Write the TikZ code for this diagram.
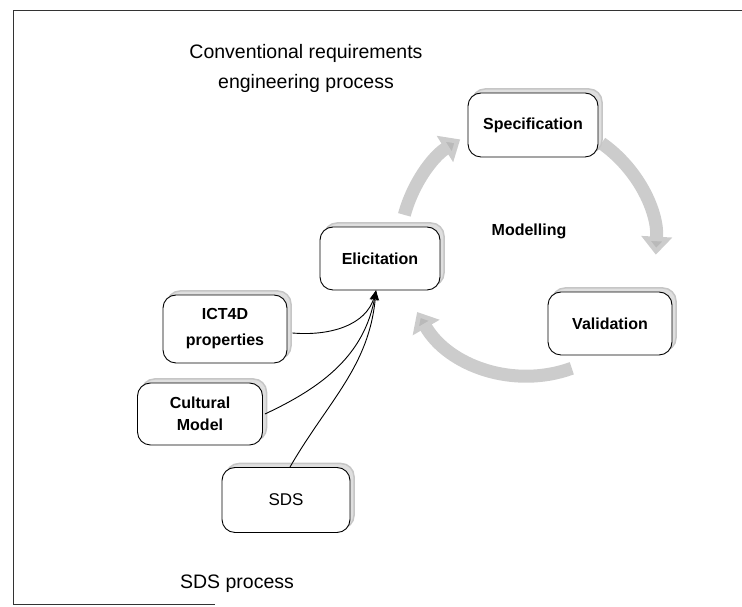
\documentclass[tikz,border=0pt]{standalone}
\usepackage{fontspec}
\setmainfont{Liberation Sans}
\usetikzlibrary{arrows.meta,shadows,calc}
\tikzset{
  box/.style={draw=black, line width=0.9pt, rounded corners=13pt, fill=white,
    minimum width=#1, minimum height=63pt, align=center, font=\fontsize{16}{22}\selectfont\bfseries,
    copy shadow={shadow xshift=4pt, shadow yshift=4pt, fill=gray!25, draw=gray!45, line width=1.5pt}},
  cyc/.style={line width=13pt, draw=gray!40, -{Triangle[width=30pt,length=18pt,fill=gray!55]}},
  feed/.style={line width=0.9pt, draw=black, -{Stealth[length=10pt,width=8pt]}},
  frame/.style={line width=0.9pt, draw=black!80},
  lbl/.style={font=\fontsize{19.5}{30}\selectfont, align=center}
}
\begin{document}
\begin{tikzpicture}[x=1pt,y=1pt]
\useasboundingbox (0,0) rectangle (742,607);
% frame
\coordinate (ftr) at (742,597);
\coordinate (ftl) at (13,597);
\coordinate (fbl) at (13,3);
\coordinate (fbr) at (215,3);
\draw[frame] (ftr) -- (ftl) -- (fbl) -- (fbr);
% cycle arrows
\coordinate (cc) at (528,359);
\draw[cyc] ($(cc)+(165:128)$) arc[start angle=165, end angle=122, radius=128];
\draw[cyc] ($(cc)+(55:128)$) arc[start angle=55, end angle=-3, radius=128];
\draw[cyc] ($(cc)+(-70:128)$) arc[start angle=-70, end angle=-150, radius=128];
% nodes
\node[box=130pt, minimum height=64pt] (spec) at (533,482) {Specification};
\node[box=120pt] (elic) at (380,348.5) {Elicitation};
\node[box=124pt] (valid) at (610,283.5) {Validation};
\node[box=124pt, minimum height=68pt, font=\fontsize{16}{26}\selectfont\bfseries] (ict) at (225,278) {ICT4D\\properties};
\node[box=125pt, minimum height=62pt] (cult) at (200,193) {Cultural\\Model};
\node[box=128pt, minimum height=65pt, font=\fontsize{17}{22}\selectfont] (sds) at (286,107) {SDS};
\node[lbl] (title) at (306,539) {Conventional requirements\\engineering process};
\node[font=\fontsize{16}{20}\selectfont\bfseries] (model) at (529,376) {Modelling};
\node[lbl] (sdsp) at (237,23) {SDS process};
% feeds
\coordinate (tgt) at ($(elic.south)+(-4,0)$);
\draw[feed] ($(ict.east)+(5,-4)$) to[out=-5, in=-105] (tgt);
\draw[feed] ($(cult.east)+(2,0)$) to[out=25, in=-100] (tgt);
\draw[feed] ($(sds.north)+(4,0)$) to[out=60, in=-95] (tgt);
\end{tikzpicture}
\end{document}
